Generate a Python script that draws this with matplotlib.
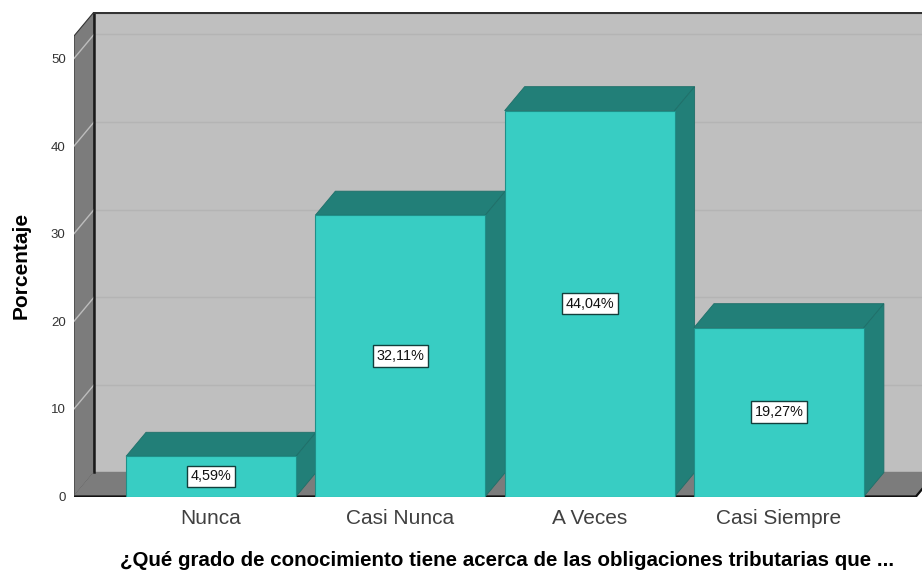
import matplotlib
matplotlib.use('Agg')
import matplotlib.pyplot as plt

categorias = ['Nunca', 'Casi Nunca', 'A Veces', 'Casi Siempre']
porcentajes = [4.59, 32.11, 44.04, 19.27]
etiquetas = ['4,59%', '32,11%', '44,04%', '19,27%']
ticks_y = [0, 10, 20, 30, 40, 50]

plt.rcParams['font.family'] = ['Liberation Sans', 'DejaVu Sans']

# profundidad del efecto 3D, en unidades de los ejes
dx = 0.1057
dy = 2.74
ancho = 0.898
x_min, x_max = -0.724, 3.756
x_suelo = 3.724
y_max = 55.3

fig = plt.figure(figsize=(9.22, 5.72), dpi=100)
ax = fig.add_axes([74 / 922, (572 - 496.5) / 572, (922 - 74) / 922, (496.5 - 12) / 572])
ax.set_xlim(x_min, x_max)
ax.set_ylim(0, y_max)

# paredes y suelo
ax.fill([x_min + dx, x_max, x_max, x_min + dx], [dy, dy, y_max, y_max], color='#bfbfbf', zorder=1)
ax.fill([x_min, x_min + dx, x_min + dx, x_min], [0, dy, y_max, y_max - dy], color='#7c7c7c', ec='#333333', lw=0.8, zorder=1)
ax.fill([x_min, x_suelo, x_suelo + dx, x_min + dx], [0, 0, dy, dy], color='#7c7c7c', zorder=1)

for t in ticks_y[1:]:
    ax.plot([x_min, x_min + dx], [t, t + dy], color='#bdbdbd', lw=1, zorder=2)
    ax.plot([x_min + dx, x_max], [t + dy, t + dy], color='#b4b4b4', lw=1, zorder=2)

ax.plot([x_min + dx, x_min + dx], [dy, y_max], color='#1a1a1a', lw=1.8, zorder=3)
ax.plot([x_min + dx, x_max], [y_max - 0.1, y_max - 0.1], color='#333333', lw=1.5, zorder=3)
ax.plot([x_min, x_suelo, x_suelo + dx], [0, 0, dy], color='#111111', lw=1.6, zorder=3)

# barras, de izquierda a derecha para que se tapen bien
for i, v in enumerate(porcentajes):
    z = 4 + i
    izq = i - ancho / 2
    der = i + ancho / 2
    ax.fill([izq, der, der + dx, izq + dx], [v, v, v + dy, v + dy], color='#227f78', ec='#1f6f69', lw=0.6, zorder=z)
    ax.fill([der, der + dx, der + dx, der], [0, dy, v + dy, v], color='#227f78', ec='#1f6f69', lw=0.6, zorder=z)
    ax.bar(i, v, ancho, color='#38cdc3', ec='#1f8f88', lw=0.8, zorder=z)
    ax.text(i, v / 2, etiquetas[i], ha='center', va='center', fontsize=10.4, color='#111111', zorder=20,
            bbox=dict(boxstyle='square,pad=0.26', fc='white', ec='#123f3c', lw=1))

for s in ax.spines.values():
    s.set_visible(False)
ax.set_xticks(range(len(categorias)))
ax.set_xticklabels(categorias, fontsize=15, color='#404040')
ax.set_yticks(ticks_y)
ax.set_yticklabels([str(t) for t in ticks_y], fontsize=9.5, color='#333333')
ax.tick_params(axis='both', length=0)
ax.tick_params(axis='x', pad=9)
ax.tick_params(axis='y', pad=6)

fig.text(21 / 922, 1 - 265 / 572, 'Porcentaje', rotation=90, ha='center', va='center', fontsize=15, fontweight='bold')
fig.text(507 / 922, 1 - 561 / 572, '¿Qué grado de conocimiento tiene acerca de las obligaciones tributarias que ...',
         ha='center', va='center', fontsize=14.8, fontweight='bold')

fig.savefig('out.png', dpi=100)
